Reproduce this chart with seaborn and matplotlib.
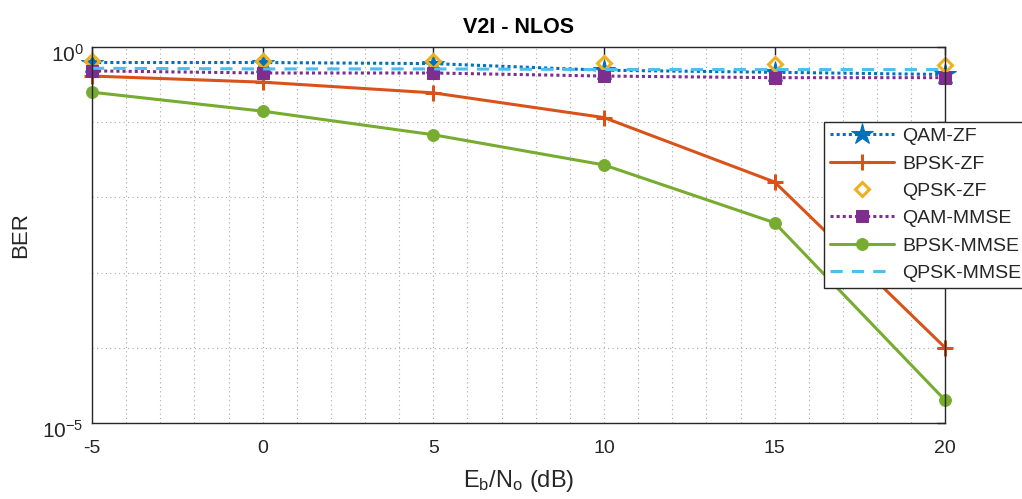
import numpy as np
import pandas as pd
import seaborn as sns
import matplotlib.pyplot as plt
from matplotlib.ticker import FixedLocator, FixedFormatter, MultipleLocator
from matplotlib.transforms import ScaledTranslation

# data
snr_db = [-5, 0, 5, 10, 15, 20]
qam_zf = [0.62, 0.62, 0.60, 0.49, 0.46, 0.43]
bpsk_zf = [0.41, 0.34, 0.245, 0.115, 0.016, 0.0001]
qpsk_zf = [0.64, 0.64, 0.64, 0.62, 0.60, 0.58]
qam_mmse = [0.48, 0.45, 0.45, 0.41, 0.39, 0.39]
bpsk_mmse = [0.25, 0.14, 0.068, 0.027, 0.0046, 0.00002]
qpsk_mmse = [0.52, 0.51, 0.51, 0.50, 0.50, 0.50]

series = {
    "QAM-ZF": qam_zf,
    "BPSK-ZF": bpsk_zf,
    "QPSK-ZF": qpsk_zf,
    "QAM-MMSE": qam_mmse,
    "BPSK-MMSE": bpsk_mmse,
    "QPSK-MMSE": qpsk_mmse,
}

styles = {
    "QAM-ZF": dict(color="#0072BD", linestyle=(0, (1, 1)), marker="*", markersize=16),
    "BPSK-ZF": dict(color="#D95319", linestyle="-", marker="+", markersize=11, markeredgewidth=2.2),
    "QPSK-ZF": dict(color="#EDB120", linestyle="none", marker="D", markersize=7.5,
                    markerfacecolor="none", markeredgewidth=2.2),
    "QAM-MMSE": dict(color="#7E2F8E", linestyle=(0, (1, 1)), marker="s", markersize=8),
    "BPSK-MMSE": dict(color="#77AC30", linestyle="-", marker="o", markersize=8.5),
    "QPSK-MMSE": dict(color="#4DBEEE", linestyle=(0, (4, 3)), marker=None),
}

df = pd.DataFrame([
    {"snr": s, "ber": v, "scheme": name}
    for name, vals in series.items()
    for s, v in zip(snr_db, vals)
])

sns.set_theme(style="white")
plt.rcParams["font.family"] = ["Liberation Sans", "DejaVu Sans"]
plt.rcParams["axes.unicode_minus"] = False
plt.rcParams["mathtext.fontset"] = "custom"
plt.rcParams["mathtext.rm"] = "Liberation Sans"
plt.rcParams["mathtext.default"] = "regular"

fig = plt.figure(figsize=(10.22, 4.99), dpi=100)
ax = fig.add_axes([0.090, 0.152, 0.835, 0.754])

for name in series:
    sub = df[df["scheme"] == name]
    st = styles[name]
    sns.lineplot(data=sub, x="snr", y="ber", ax=ax, label=name, linewidth=2.2,
                 markeredgecolor=st["color"], clip_on=False, **st)

ax.set_yscale("log")
ax.set_xlim(-5, 20)
ax.set_ylim(1e-5, 1)

ax.xaxis.set_major_locator(MultipleLocator(5))
ax.xaxis.set_minor_locator(MultipleLocator(1))
decades = [10.0 ** k for k in range(-5, 1)]
ax.yaxis.set_major_locator(FixedLocator(decades))
ax.yaxis.set_major_formatter(FixedFormatter(["$10^{-5}$", "", "", "", "", "$10^{0}$"]))
ax.yaxis.set_minor_locator(FixedLocator([]))

grid_kw = dict(linestyle=(0, (1, 3)), color="#aaaaaa", linewidth=0.8)
ax.grid(True, which="major", axis="both", **grid_kw)
ax.grid(True, which="minor", axis="x", **grid_kw)
ax.set_axisbelow(True)

ax.tick_params(which="major", direction="in", length=6, width=1, colors="#262626",
               labelsize=14, top=True, right=True)
ax.tick_params(axis="x", pad=12)
ax.tick_params(axis="y", pad=6, labelsize=15)
ax.tick_params(which="minor", length=0)
for sp in ax.spines.values():
    sp.set_color("#262626")
    sp.set_linewidth(1)

# MATLAB draws the log tick labels a little below their tick
shift = ScaledTranslation(0, -4 / 72, fig.dpi_scale_trans)
for lab in ax.get_yticklabels():
    lab.set_transform(lab.get_transform() + shift)

ax.set_title("V2I - NLOS", fontsize=15.5, fontweight="bold", color="black", pad=10)
ax.set_xlabel("E$_{b}$/N$_{o}$ (dB)", fontsize=17, color="#262626", labelpad=8)
ax.set_ylabel("BER", fontsize=16, color="#262626", labelpad=8)

leg = ax.legend(loc="upper left", bbox_to_anchor=(0.806, 0.756), bbox_transform=fig.transFigure,
                frameon=True, fancybox=False, fontsize=14, handlelength=3.3,
                borderpad=0.3, labelspacing=0.5, handletextpad=0.45, borderaxespad=0)
leg.get_frame().set_edgecolor("#262626")
leg.get_frame().set_linewidth(1)
leg.get_frame().set_alpha(1)

fig.savefig("out.png", dpi=100)
